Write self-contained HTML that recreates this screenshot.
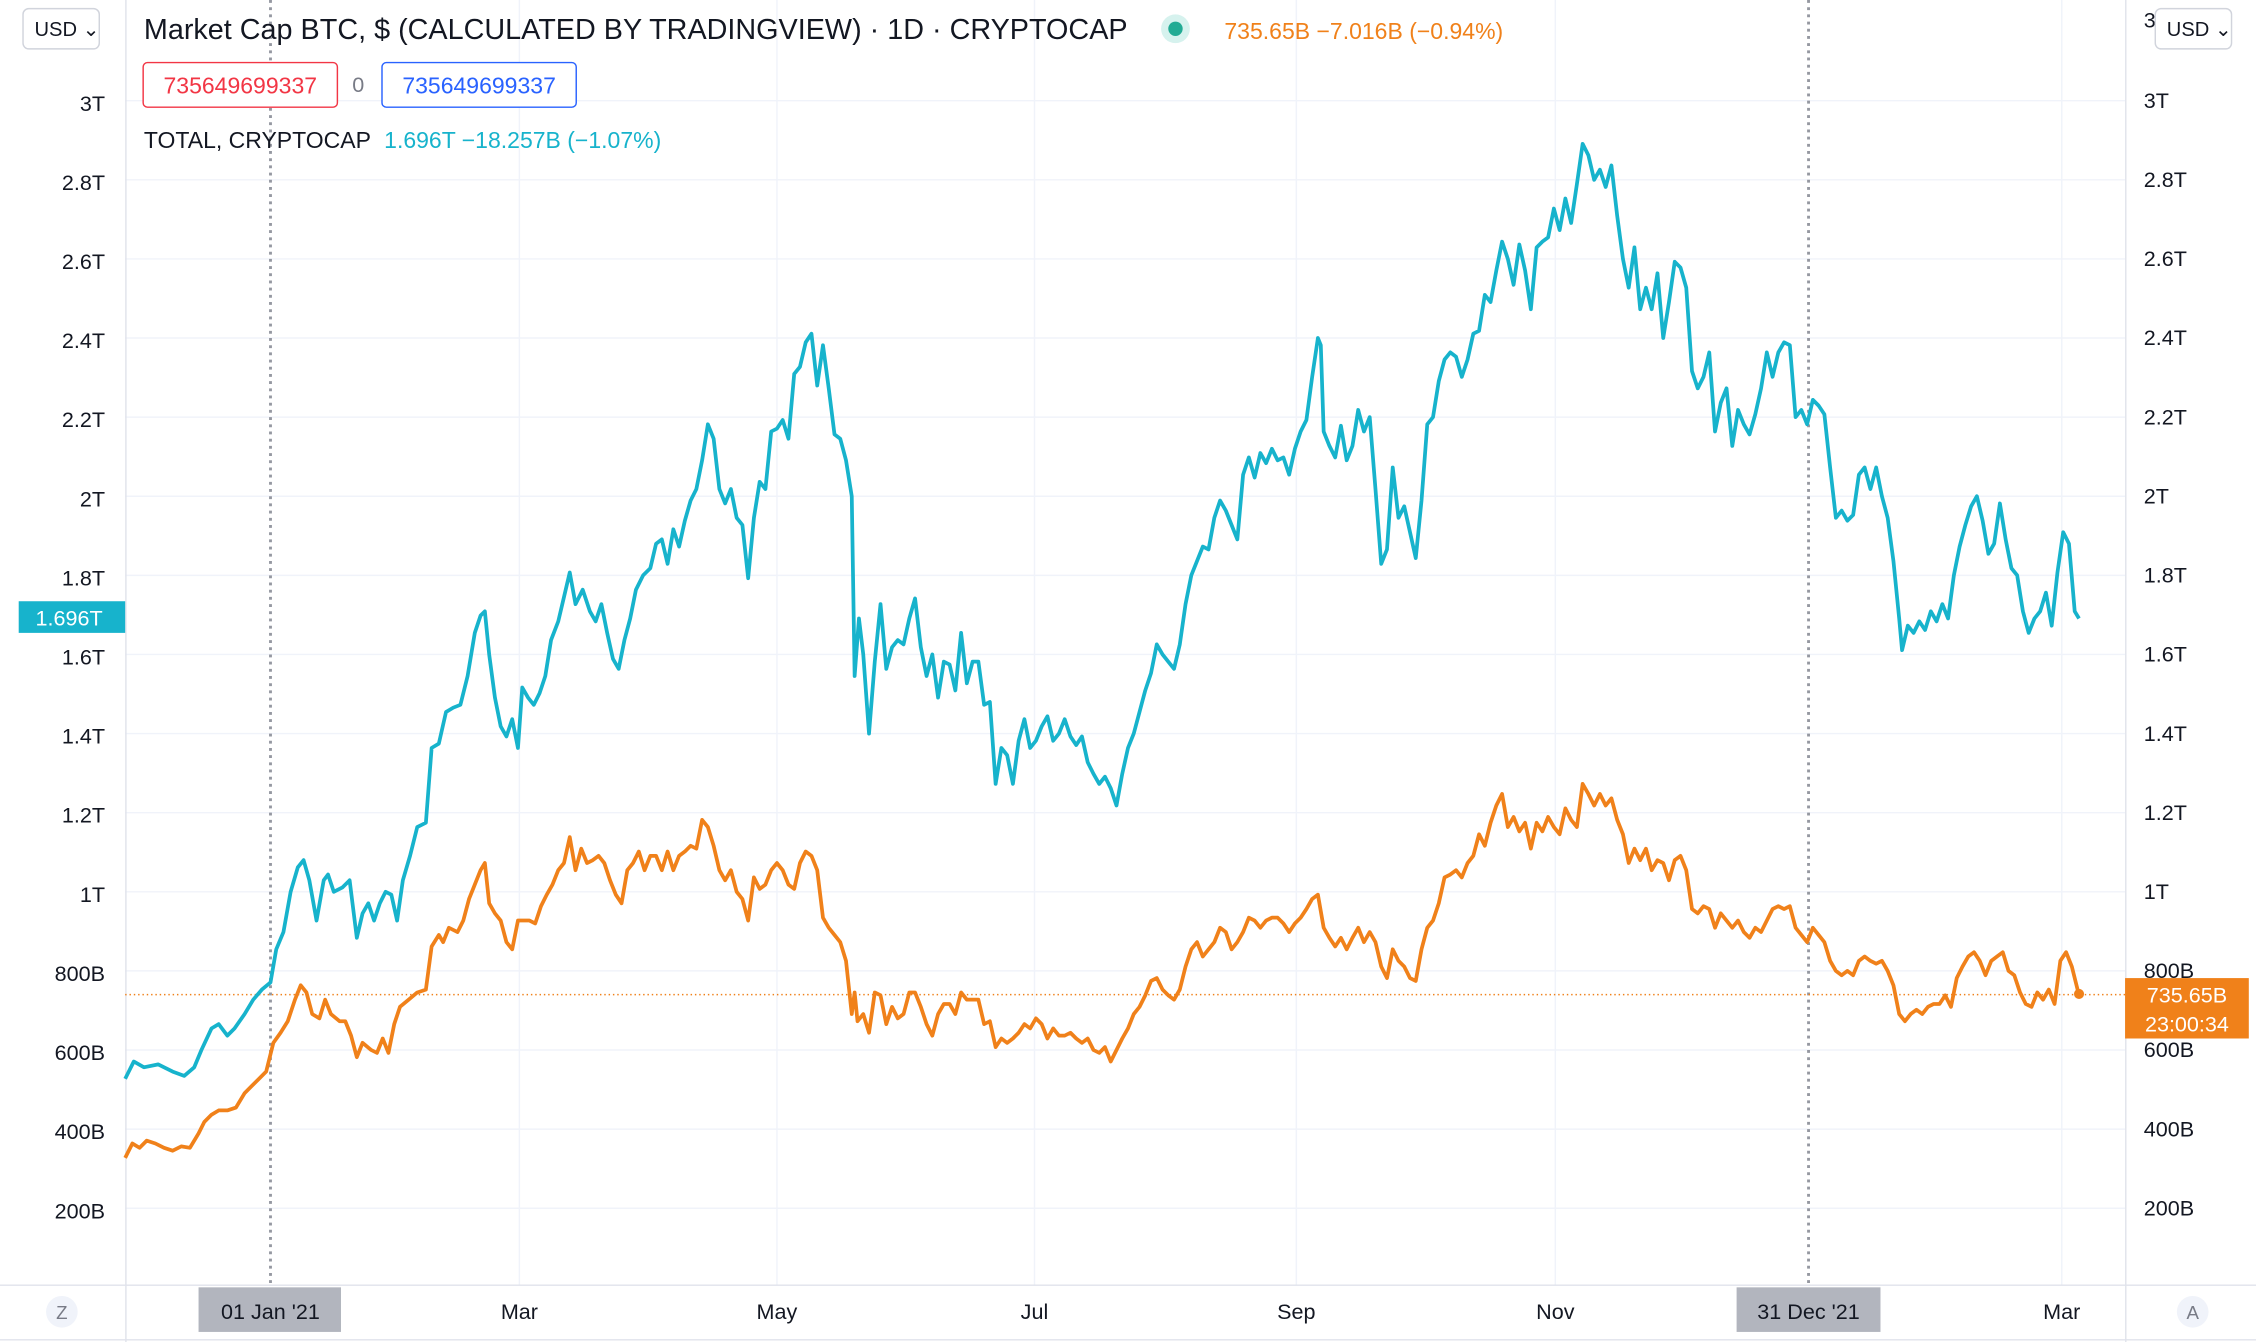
<!DOCTYPE html>
<html><head><meta charset="utf-8">
<style>
html,body{margin:0;padding:0;background:#fff;width:2256px;height:1342px;overflow:hidden}
svg{display:block}
text{font-family:"Liberation Sans","DejaVu Sans",sans-serif}
</style></head><body>
<svg width="2256" height="1342" viewBox="0 0 1568 933" preserveAspectRatio="none" xmlns="http://www.w3.org/2000/svg">
<rect width="1568" height="933" fill="#fff"/>
<!-- horizontal grid -->
<g stroke="#f0f3fa" stroke-width="1">
<line x1="87" x2="1477" y1="70" y2="70"/><line x1="87" x2="1477" y1="125" y2="125"/><line x1="87" x2="1477" y1="180" y2="180"/><line x1="87" x2="1477" y1="235" y2="235"/><line x1="87" x2="1477" y1="290" y2="290"/><line x1="87" x2="1477" y1="345" y2="345"/><line x1="87" x2="1477" y1="400" y2="400"/><line x1="87" x2="1477" y1="455" y2="455"/><line x1="87" x2="1477" y1="510" y2="510"/><line x1="87" x2="1477" y1="565" y2="565"/><line x1="87" x2="1477" y1="620" y2="620"/><line x1="87" x2="1477" y1="675" y2="675"/><line x1="87" x2="1477" y1="730" y2="730"/><line x1="87" x2="1477" y1="785" y2="785"/><line x1="87" x2="1477" y1="840" y2="840"/>
<line x1="361" x2="361" y1="0" y2="893"/><line x1="540" x2="540" y1="0" y2="893"/><line x1="719" x2="719" y1="0" y2="893"/><line x1="901" x2="901" y1="0" y2="893"/><line x1="1081" x2="1081" y1="0" y2="893"/><line x1="1433" x2="1433" y1="0" y2="893"/>
</g>
<!-- borders -->
<g stroke="#e0e3eb" stroke-width="1">
<line x1="87.5" x2="87.5" y1="0" y2="933"/><line x1="1477.5" x2="1477.5" y1="0" y2="933"/>
<line x1="0" x2="1568" y1="893.5" y2="893.5"/><line x1="0" x2="1568" y1="931.5" y2="931.5"/>
</g>
<!-- dotted verticals -->
<g stroke="#9598a1" stroke-width="2" stroke-dasharray="2,3">
<line x1="188" x2="188" y1="0" y2="893"/><line x1="1257" x2="1257" y1="0" y2="893"/>
</g>
<line x1="87" x2="1477" y1="691.5" y2="691.5" stroke="#f0811a" stroke-width="1" stroke-dasharray="1,2"/>
<!-- series -->
<polyline fill="none" stroke="#17b3cc" stroke-width="2.6" stroke-linejoin="round" points="87,750 93,738 100,742 110,740 120,745 128,748 135,742 140,730 147,715 152,712 158,720 163,715 170,705 176,695 182,688 188,683 192,660 197,648 202,620 207,603 211,598 215,612 220,640 225,612 228,608 232,620 238,617 243,612 248,652 252,635 256,628 260,640 264,628 268,620 272,622 276,640 280,612 285,595 290,575 296,572 300,520 305,517 310,495 315,492 320,490 325,470 330,440 334,428 337,425 340,455 344,485 348,505 352,512 356,500 360,520 363,478 367,485 371,490 375,482 379,470 383,445 388,432 392,415 396,398 400,420 405,410 410,425 414,432 418,420 422,440 426,458 430,465 434,445 438,430 442,410 447,400 452,395 456,378 460,375 464,392 468,368 472,380 476,362 480,348 484,340 488,320 492,295 496,305 500,340 504,350 508,340 512,360 516,365 520,402 524,360 528,335 532,340 536,300 540,298 544,292 548,305 552,260 556,255 560,238 564,232 568,268 572,240 576,270 580,302 584,305 588,320 592,345 594,470 597,430 600,455 604,510 608,460 612,420 616,465 620,450 624,445 628,448 632,430 636,416 640,450 644,470 648,455 652,485 656,460 660,462 664,480 668,440 672,475 676,460 680,460 684,490 688,488 692,545 696,520 700,525 704,545 708,515 712,500 716,520 720,515 724,505 728,498 732,515 736,510 740,500 744,512 748,518 752,512 756,530 760,538 764,545 768,540 772,548 776,560 780,538 784,520 788,510 792,495 796,480 800,468 804,448 808,455 812,460 816,465 820,448 824,420 828,400 832,390 836,380 840,382 844,360 848,348 852,355 856,365 860,375 864,330 868,318 872,332 876,315 880,322 884,312 888,320 892,318 896,330 900,312 904,300 908,292 912,262 916,235 918,240 920,300 924,310 928,318 932,296 936,320 940,310 944,285 948,300 952,290 956,340 960,392 964,382 968,325 972,360 976,352 980,370 984,388 988,348 992,295 996,290 1000,265 1004,250 1008,245 1012,248 1016,262 1020,250 1024,232 1028,230 1032,205 1036,210 1040,188 1044,168 1048,180 1052,198 1056,170 1060,188 1064,215 1068,172 1072,168 1076,165 1080,145 1084,160 1088,138 1092,155 1096,128 1100,100 1104,108 1108,125 1112,118 1116,130 1120,115 1124,150 1128,180 1132,200 1136,172 1140,215 1144,200 1148,215 1152,190 1156,235 1160,210 1164,182 1168,186 1172,200 1176,258 1180,270 1184,262 1188,245 1192,300 1196,280 1200,270 1204,310 1208,285 1212,295 1216,302 1220,288 1224,270 1228,245 1232,262 1236,245 1240,238 1244,240 1248,290 1252,285 1256,295 1260,278 1264,282 1268,288 1272,325 1276,360 1280,355 1284,362 1288,358 1292,330 1296,325 1300,340 1304,325 1308,345 1312,360 1316,390 1320,430 1322,452 1326,435 1330,440 1334,432 1338,438 1342,425 1346,432 1350,420 1354,430 1358,400 1362,380 1366,365 1370,352 1374,345 1378,362 1382,385 1386,378 1390,350 1394,375 1398,395 1402,400 1406,425 1410,440 1414,430 1418,425 1422,412 1426,435 1430,398 1434,370 1438,378 1442,425 1445,430"/>
<polyline fill="none" stroke="#f0811a" stroke-width="2.6" stroke-linejoin="round" points="87,805 92,795 97,798 102,793 108,795 114,798 120,800 126,797 132,798 138,788 142,780 147,775 152,772 158,772 164,770 170,760 175,755 180,750 185,745 190,725 195,718 200,710 205,695 209,685 213,690 217,705 222,708 226,695 230,705 236,710 240,710 244,720 248,735 252,725 258,730 262,732 266,722 270,732 274,712 278,700 284,695 290,690 296,688 300,658 305,650 308,655 312,645 318,648 322,640 326,625 330,615 334,605 337,600 340,628 344,635 348,640 352,655 356,660 360,640 364,640 368,640 372,642 376,630 380,622 384,615 388,605 392,600 396,582 400,605 404,590 408,600 412,598 416,595 420,600 424,612 428,622 432,628 436,605 440,600 444,592 448,605 452,595 456,595 460,605 464,592 468,605 472,595 476,592 480,588 484,590 488,570 492,575 496,588 500,605 504,612 508,605 512,620 516,625 520,640 524,610 528,618 532,615 536,605 540,600 544,605 548,615 552,618 556,600 560,592 564,595 568,605 572,638 576,645 580,650 584,655 588,668 592,705 594,690 596,710 600,705 604,718 608,690 612,692 616,712 620,700 624,708 628,705 632,690 636,690 640,700 644,712 648,720 652,705 656,698 660,698 664,705 668,690 672,695 676,695 680,695 684,712 688,710 692,728 696,722 700,725 704,722 708,718 712,712 716,715 720,708 724,712 728,722 732,715 736,720 740,720 744,718 748,722 752,725 756,722 760,730 764,732 768,728 772,738 776,730 780,722 784,715 788,705 792,700 796,692 800,682 804,680 808,688 812,692 816,695 820,688 824,672 828,660 832,655 836,665 840,660 844,655 848,645 852,648 856,660 860,655 864,648 868,638 872,640 876,645 880,640 884,638 888,638 892,642 896,648 900,642 904,638 908,632 912,625 916,622 920,645 924,652 928,658 932,652 936,660 940,652 944,645 948,655 952,648 956,655 960,672 964,680 968,660 972,668 976,672 980,680 984,682 988,660 992,645 996,640 1000,628 1004,610 1008,608 1012,605 1016,610 1020,600 1024,595 1028,580 1032,588 1036,572 1040,560 1044,552 1048,575 1052,568 1056,578 1060,572 1064,590 1068,572 1072,578 1076,568 1080,575 1084,580 1088,562 1092,570 1096,575 1100,545 1104,552 1108,560 1112,552 1116,560 1120,555 1124,570 1128,580 1132,600 1136,590 1140,598 1144,590 1148,605 1152,598 1156,600 1160,612 1164,598 1168,595 1172,605 1176,632 1180,635 1184,630 1188,632 1192,645 1196,635 1200,640 1204,645 1208,640 1212,648 1216,652 1220,645 1224,648 1228,640 1232,632 1236,630 1240,632 1244,630 1248,645 1252,650 1256,655 1260,645 1264,650 1268,655 1272,668 1276,675 1280,678 1284,675 1288,678 1292,668 1296,665 1300,668 1304,670 1308,668 1312,675 1316,685 1320,705 1324,710 1328,705 1332,702 1336,705 1340,700 1344,698 1348,698 1352,692 1356,700 1360,680 1364,672 1368,665 1372,662 1376,668 1380,678 1384,668 1388,665 1392,662 1396,675 1400,678 1404,690 1408,698 1412,700 1416,690 1420,695 1424,688 1428,698 1432,668 1436,662 1440,672 1445,692"/>
<circle cx="1445" cy="691" r="3.5" fill="#f0811a"/>
<!-- left axis -->
<g font-size="15" fill="#131722" text-anchor="end">
<text x="73" y="77">3T</text><text x="73" y="132">2.8T</text><text x="73" y="187">2.6T</text><text x="73" y="242">2.4T</text><text x="73" y="297">2.2T</text><text x="73" y="352">2T</text><text x="73" y="407">1.8T</text><text x="73" y="462">1.6T</text><text x="73" y="517">1.4T</text><text x="73" y="572">1.2T</text><text x="73" y="627">1T</text><text x="73" y="682">800B</text><text x="73" y="737">600B</text><text x="73" y="792">400B</text><text x="73" y="847">200B</text>
</g>
<g font-size="15" fill="#131722">
<text x="1490" y="75">3T</text><text x="1490" y="130">2.8T</text><text x="1490" y="185">2.6T</text><text x="1490" y="240">2.4T</text><text x="1490" y="295">2.2T</text><text x="1490" y="350">2T</text><text x="1490" y="405">1.8T</text><text x="1490" y="460">1.6T</text><text x="1490" y="515">1.4T</text><text x="1490" y="570">1.2T</text><text x="1490" y="625">1T</text><text x="1490" y="680">800B</text><text x="1490" y="735">600B</text><text x="1490" y="790">400B</text><text x="1490" y="845">200B</text>
<text x="1490" y="19">3</text>
</g>
<!-- price labels -->
<rect x="13" y="418" width="74" height="22" fill="#17b3cc"/>
<text x="48" y="435" font-size="15" fill="#fff" text-anchor="middle">1.696T</text>
<rect x="1477" y="680" width="86" height="42" fill="#f0811a"/>
<text x="1520" y="697" font-size="15" fill="#fff" text-anchor="middle">735.65B</text>
<text x="1520" y="717" font-size="15" fill="#fff" text-anchor="middle">23:00:34</text>
<!-- header -->
<rect x="0" y="0" width="86" height="6" fill="#fff"/>
<rect x="16" y="6" width="53" height="28" rx="4" fill="#fff" stroke="#d1d4dc"/>
<text x="24" y="25" font-size="14" fill="#131722">USD ⌄</text>
<rect x="1498" y="6" width="53" height="28" rx="4" fill="#fff" stroke="#d1d4dc"/>
<text x="1506" y="25" font-size="14" fill="#131722">USD ⌄</text>
<text x="100" y="27" font-size="20" fill="#131722">Market Cap BTC, $ (CALCULATED BY TRADINGVIEW) · 1D · CRYPTOCAP</text>
<circle cx="817" cy="20" r="10" fill="#d6f2ee"/><circle cx="817" cy="20" r="5" fill="#22ab94"/>
<text x="851" y="27" font-size="16" fill="#f0811a">735.65B −7.016B (−0.94%)</text>
<rect x="99.5" y="43.5" width="135" height="31" rx="3" fill="#fff" stroke="#f23645"/>
<text x="167" y="65" font-size="16" fill="#f23645" text-anchor="middle">735649699337</text>
<text x="249" y="64" font-size="15" fill="#787b86" text-anchor="middle">0</text>
<rect x="265.5" y="43.5" width="135" height="31" rx="3" fill="#fff" stroke="#2962ff"/>
<text x="333" y="65" font-size="16" fill="#2962ff" text-anchor="middle">735649699337</text>
<text x="100" y="103" font-size="16" fill="#131722">TOTAL, CRYPTOCAP</text>
<text x="267" y="103" font-size="16" fill="#17b3cc">1.696T −18.257B (−1.07%)</text>
<!-- time axis -->
<rect x="138" y="895" width="99" height="31" fill="#b2b5be"/>
<rect x="1207" y="895" width="100" height="31" fill="#b2b5be"/>
<g font-size="15" fill="#131722" text-anchor="middle">
<text x="188" y="917">01 Jan '21</text><text x="361" y="917">Mar</text><text x="540" y="917">May</text><text x="719" y="917">Jul</text><text x="901" y="917">Sep</text><text x="1081" y="917">Nov</text><text x="1257" y="917">31 Dec '21</text><text x="1433" y="917">Mar</text>
</g>
<circle cx="43" cy="912" r="11" fill="#f0f3fa"/><text x="43" y="917" font-size="13" fill="#787b86" text-anchor="middle">Z</text>
<circle cx="1524" cy="912" r="11" fill="#f0f3fa"/><text x="1524" y="917" font-size="13" fill="#787b86" text-anchor="middle">A</text>
</svg>
</body></html>
